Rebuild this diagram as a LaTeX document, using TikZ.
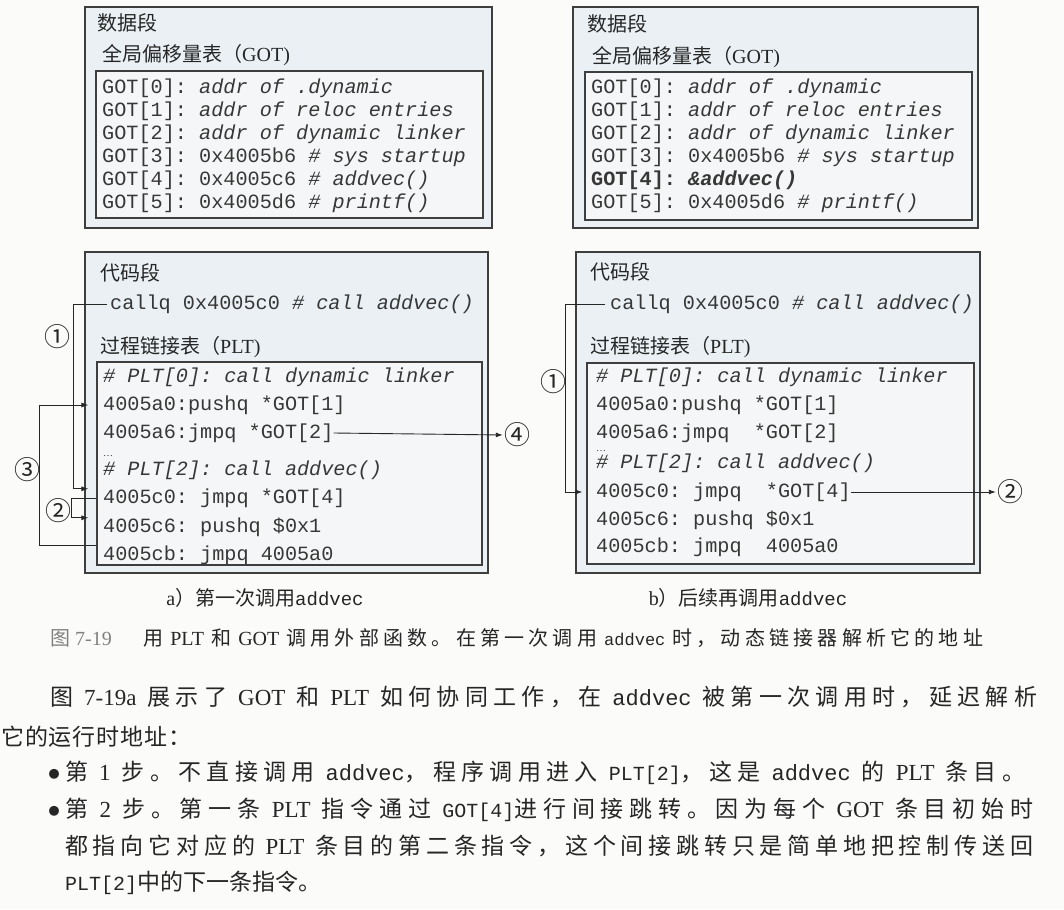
\documentclass[tikz,border=0pt]{standalone}
\usepackage{fontspec}
\setmainfont{Noto Sans CJK SC}
\setmonofont{Liberation Mono}
\newfontfamily\latin{Liberation Serif}
\usepackage{tikz}
\usetikzlibrary{arrows.meta}

% stretchable glue between Chinese characters, for the justified text lines
\XeTeXinterchartokenstate=1
\chardef\hancls=7
\newcount\hanpos
\def\hanrange#1#2{\hanpos=#1 \loop \XeTeXcharclass\hanpos=\hancls
  \ifnum\hanpos<#2 \advance\hanpos by 1 \repeat}
\hanrange{"3000}{"303F}
\hanrange{"4E00}{"9FFF}
\hanrange{"FF00}{"FFEF}
\XeTeXinterchartoks\hancls\hancls={\hskip 0pt plus 8pt\relax}

\definecolor{ink}{RGB}{38,38,38}
\definecolor{codeink}{RGB}{55,55,55}
\definecolor{boxline}{RGB}{62,62,62}
\definecolor{segfill}{RGB}{234,240,244}
\definecolor{tabfill}{RGB}{244,246,247}
\definecolor{pagebg}{RGB}{251,251,250}

\newcommand{\codefont}{\fontsize{20.2pt}{24pt}\selectfont\ttfamily}
\newcommand{\cnfont}{\fontsize{20pt}{24pt}\selectfont}
\newcommand{\bodyfont}{\fontsize{23pt}{27pt}\selectfont\spaceskip=7pt plus 6pt\relax}
\newcommand{\capfont}{\fontsize{20pt}{24pt}\selectfont\spaceskip=5pt plus 4pt\relax}
\newcommand{\bodytt}{\fontsize{22pt}{27pt}\selectfont\ttfamily}
\newcommand{\smalltt}{\fontsize{20pt}{27pt}\selectfont\ttfamily}
\newcommand{\captt}{\fontsize{17pt}{22pt}\selectfont\ttfamily}

\begin{document}
\begin{tikzpicture}[x=1pt,y=-1pt,>={Latex[length=7pt,width=5pt]},
  segbox/.style={draw=boxline,fill=segfill,line width=1.1pt,inner sep=0pt},
  tabbox/.style={draw=boxline,fill=tabfill,line width=1.1pt,inner sep=0pt},
  codeline/.style={anchor=west,inner sep=0pt,text=codeink,font=\codefont,text height=14pt,text depth=4pt},
  cnlabel/.style={anchor=west,inner sep=0pt,text=ink,font=\cnfont,text height=16pt,text depth=2pt},
  stepno/.style={inner sep=0pt,text=ink,font=\fontsize{26pt}{28pt}\selectfont},
  flow/.style={->,draw=ink,line width=0.9pt},
  bodyline/.style={anchor=west,inner sep=0pt,text=ink,font=\bodyfont,text height=18pt,text depth=3pt},
  bullet/.style={text=ink,inner sep=0pt,font=\fontsize{11pt}{12pt}\selectfont}]
  \fill[pagebg] (0,0) rectangle (1064,909);
  \useasboundingbox (0,0) rectangle (1064,909);

  % a) data segment
  \node[segbox,minimum width=407pt,minimum height=221pt] (dataA) at (288.5,117.5) {};
  \node[tabbox,minimum width=387pt,minimum height=147pt] (gotA) at (289.5,144.5) {};
  \node[cnlabel] (dataTitleA) at (97,24) {数据段};
  \node[cnlabel] (gotTitleA) at (102,55) {全局偏移量表（{\latin GOT)}};
  \foreach \entry [count=\i] in {
      {GOT[0]: \textit{addr of .dynamic}},
      {GOT[1]: \textit{addr of reloc entries}},
      {GOT[2]: \textit{addr of dynamic linker}},
      {GOT[3]: 0x4005b6 \textit{\# sys startup}},
      {GOT[4]: 0x4005c6 \textit{\# addvec()}},
      {GOT[5]: 0x4005d6 \textit{\# printf()}}}
    \node[codeline] (gotA\i) at (102,{66+23*\i}) {\entry};

  % b) data segment
  \node[segbox,minimum width=405pt,minimum height=221pt] (dataB) at (775.5,117.5) {};
  \node[tabbox,minimum width=387pt,minimum height=148pt] (gotB) at (778.5,146) {};
  \node[cnlabel] (dataTitleB) at (587,25) {数据段};
  \node[cnlabel] (gotTitleB) at (592,57) {全局偏移量表（{\latin GOT)}};
  \foreach \entry [count=\i] in {
      {GOT[0]: \textit{addr of .dynamic}},
      {GOT[1]: \textit{addr of reloc entries}},
      {GOT[2]: \textit{addr of dynamic linker}},
      {GOT[3]: 0x4005b6 \textit{\# sys startup}},
      {\textbf{GOT[4]: \textit{\&addvec()}}},
      {GOT[5]: 0x4005d6 \textit{\# printf()}}}
    \node[codeline] (gotB\i) at (591,{66+23*\i}) {\entry};

  % a) code segment
  \node[segbox,minimum width=403pt,minimum height=321pt] (codeA) at (286.5,412.5) {};
  \node[tabbox,minimum width=385pt,minimum height=203pt] (pltA) at (289.5,463.5) {};
  \node[cnlabel] (codeTitleA) at (100,273) {代码段};
  \node[codeline] (callA) at (110,304) {callq 0x4005c0 \textit{\# call addvec()}};
  \node[cnlabel] (pltTitleA) at (100,346) {过程链接表（{\latin PLT)}};
  \foreach \y/\nm/\entry in {
      377/hdA/{\textit{\# PLT[0]: call dynamic linker}},
      405/a0A/{4005a0:pushq *GOT[1]},
      433/a6A/{4005a6:jmpq *GOT[2]},
      470/hcA/{\textit{\# PLT[2]: call addvec()}},
      498/c0A/{4005c0: jmpq *GOT[4]},
      527/c6A/{4005c6: pushq \$0x1},
      555/cbA/{4005cb: jmpq 4005a0}}
    \node[codeline] (\nm) at (103,\y) {\entry};
  \node[codeline,font=\fontsize{10pt}{10pt}\selectfont\latin] (dotsA) at (103,451) {\ldots};

  % b) code segment
  \node[segbox,minimum width=404pt,minimum height=321pt] (codeB) at (778,412.5) {};
  \node[tabbox,minimum width=387pt,minimum height=201pt] (pltB) at (780.5,463.5) {};
  \node[cnlabel] (codeTitleB) at (590,272) {代码段};
  \node[codeline] (callB) at (610,304) {callq 0x4005c0 \textit{\# call addvec()}};
  \node[cnlabel] (pltTitleB) at (590,346) {过程链接表（{\latin PLT)}};
  \foreach \y/\nm/\entry in {
      377/hdB/{\textit{\# PLT[0]: call dynamic linker}},
      405/a0B/{4005a0:pushq *GOT[1]},
      433/a6B/{4005a6:jmpq\ \ *GOT[2]},
      463/hcB/{\textit{\# PLT[2]: call addvec()}},
      492/c0B/{4005c0: jmpq\ \ *GOT[4]},
      520/c6B/{4005c6: pushq \$0x1},
      547/cbB/{4005cb: jmpq\ \ 4005a0}}
    \node[codeline] (\nm) at (596,\y) {\entry};
  \node[codeline,font=\fontsize{10pt}{10pt}\selectfont\latin] (dotsB) at (596,446) {\ldots};

  % step numbers
  \node[stepno] (n1A) at (57,337) {①};
  \node[stepno] (n2A) at (58,511) {②};
  \node[stepno] (n3A) at (27,470) {③};
  \node[stepno] (n4A) at (517,435) {④};
  \node[stepno] (n1B) at (553,382) {①};
  \node[stepno] (n2B) at (1010,492) {②};

  % a) connectors
  \draw[flow,shorten <=3pt,shorten >=8pt] (callA.west) -- ++(-37,0) |- (pltA.west |- c0A.north west);
  \draw[flow,shorten >=8pt] (pltA.west |- c0A.west) -- ++(-25,0) |- (pltA.west |- c6A.north west);
  \draw[flow,shorten >=8pt] (pltA.west |- cbA.north west) -- ++(-57,0) |- (pltA.west |- a0A.west);
  \draw[flow,shorten >=1pt] (a6A.east) -- (n4A.west);

  % b) connectors
  \draw[flow,shorten <=5pt,shorten >=4pt] (callB.west) -- ++(-45,0) |- (pltB.west |- c0B.west);
  \draw[flow,shorten >=1pt] (c0B.east) -- (n2B.west);

  % sub-captions
  \node[text=ink,font=\cnfont] (subA) at (265,598) {{\latin a}）第一次调用{\captt\fontsize{19pt}{22pt}\selectfont addvec}};
  \node[text=ink,font=\cnfont] (subB) at (748,598) {{\latin b}）后续再调用{\captt\fontsize{19pt}{22pt}\selectfont addvec}};

  % figure caption and text
  \node[bodyline,font=\capfont,text=gray] (figNo) at (50,638) {图 {\latin 7-19}};
  \node[bodyline,font=\capfont] (figCap) at (143,638)
    {\makebox[840pt][s]{用 {\latin PLT} 和 {\latin GOT} 调用外部函数。在第一次调用 {\captt addvec} 时，动态链接器解析它的地址}};
  \node[bodyline] (para1) at (50,698)
    {\makebox[987pt][s]{图 {\latin 7-19a} 展示了 {\latin GOT} 和 {\latin PLT} 如何协同工作，在 {\bodytt addvec} 被第一次调用时，延迟解析}};
  \node[bodyline] (para2) at (1,738) {\makebox[190pt][s]{它的运行时地址：}};
  \node[bullet] (dot1) at (54,774) {●};
  \node[bodyline] (step1) at (65,773)
    {\makebox[960pt][s]{第 {\latin 1} 步。不直接调用 {\bodytt addvec}，程序调用进入 {\smalltt PLT[2]}，这是 {\bodytt addvec} 的 {\latin PLT} 条目。}};
  \node[bullet] (dot2) at (54,811) {●};
  \node[bodyline] (step2) at (65,810)
    {\makebox[968pt][s]{第 {\latin 2} 步。第一条 {\latin PLT} 指令通过 {\smalltt GOT[4]}进行间接跳转。因为每个 {\latin GOT} 条目初始时}};
  \node[bodyline] (step2b) at (65,847)
    {\makebox[968pt][s]{都指向它对应的 {\latin PLT} 条目的第二条指令，这个间接跳转只是简单地把控制传送回}};
  \node[bodyline] (step2c) at (65,883) {\makebox[255pt][s]{{\smalltt PLT[2]}中的下一条指令。}};
\end{tikzpicture}
\end{document}
